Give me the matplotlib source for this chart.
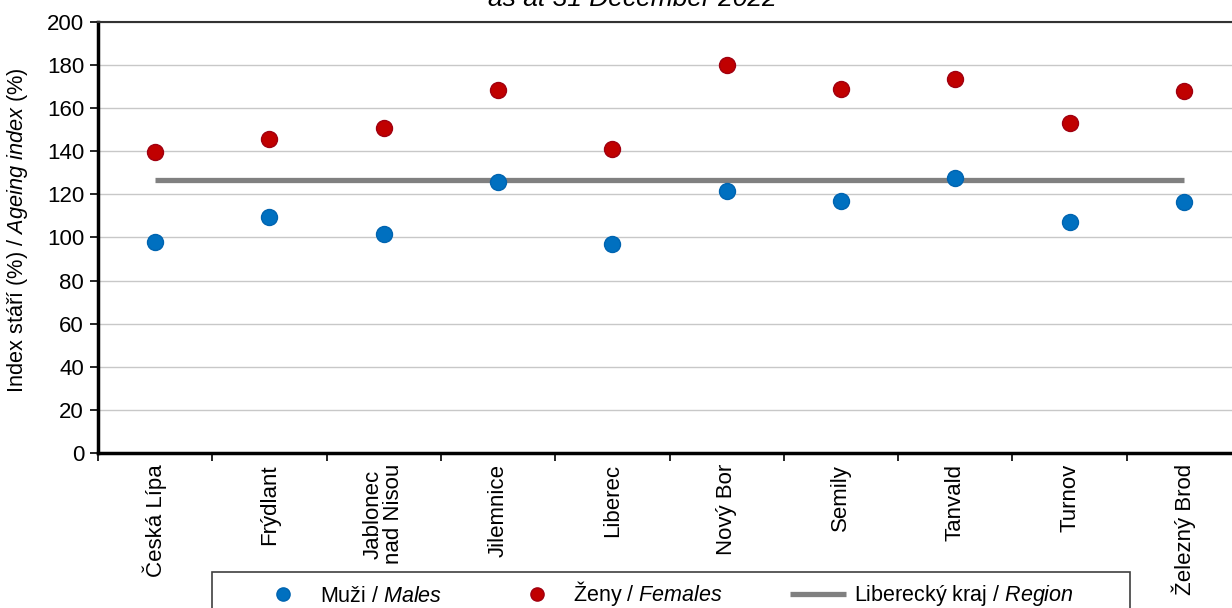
import matplotlib.pyplot as plt
import matplotlib.patches as mpatches
import numpy as np

plt.rcParams['font.family'] = ['Liberation Sans', 'DejaVu Sans']
plt.rcParams['mathtext.fontset'] = 'custom'
plt.rcParams['mathtext.rm'] = 'Liberation Sans'
plt.rcParams['mathtext.it'] = 'Liberation Sans:italic'

towns = ['Česká Lípa', 'Frýdlant', 'Jablonec\nnad Nisou', 'Jilemnice', 'Liberec',
         'Nový Bor', 'Semily', 'Tanvald', 'Turnov', 'Železný Brod']
males = [97.9, 109.5, 101.6, 125.8, 97.0, 121.6, 116.9, 127.6, 107.2, 116.5]
females = [139.7, 145.7, 150.8, 168.4, 141.0, 180.0, 168.9, 173.5, 153.1, 168.0]
region = [126.9] * len(towns)

fs = 16

fig = plt.figure(figsize=(12.32, 6.08), dpi=100)
ax = fig.add_axes([98 / 1232, 1 - 453 / 608, 1143 / 1232, 431 / 608])

x = np.arange(len(towns))
lreg, = ax.plot(x, region, color='#808080', linewidth=3.8, solid_capstyle='butt',
                label='Liberecký kraj / $\\it{Region}$', zorder=2)
lm, = ax.plot(x, males, 'o', color='#0070C0', markersize=11.5, markeredgecolor='#0064B0',
              markeredgewidth=1, linestyle='none', label='Muži / $\\it{Males}$', zorder=3)
lf, = ax.plot(x, females, 'o', color='#C00000', markersize=11.5, markeredgecolor='#A00010',
              markeredgewidth=1, linestyle='none', label='Ženy / $\\it{Females}$', zorder=3)

ax.set_xlim(-0.5, len(towns) - 0.5)
ax.set_ylim(0, 200)
ax.set_yticks(np.arange(0, 201, 20))
ax.yaxis.grid(True, color='#C8C8C8', linewidth=1)
ax.set_axisbelow(True)

ax.set_xticks(x)
ax.set_xticklabels(towns, rotation=90, fontsize=fs, linespacing=0.95,
                   ha='center', multialignment='center')
ax.set_xticks(np.arange(-0.5, len(towns), 1), minor=True)
ax.tick_params(axis='x', which='major', length=0, pad=8)
ax.tick_params(axis='x', which='minor', length=6, width=1.2, direction='out')
ax.tick_params(axis='y', labelsize=fs, length=6, width=1.2, direction='out', pad=4)

for s in ['left', 'bottom']:
    ax.spines[s].set_linewidth(2.5)
    ax.spines[s].set_color('black')
ax.spines['top'].set_linewidth(1.5)
ax.spines['top'].set_color('#333333')
ax.spines['right'].set_visible(False)

ax.set_ylabel('Index stáří (%) / $\\it{Ageing\\ index\\ (\\%)}$', fontsize=15.7)
ax.yaxis.set_label_coords((30 - 98) / 1143, 0.517)

fig.text(632 / 1232, 1 - 6 / 608, 'as at 31 December 2022', fontsize=19, style='italic',
         ha='center', va='baseline')

# legend frame drawn separately, it runs off the bottom of the figure
fig.patches.append(mpatches.Rectangle((212 / 1232, -0.05), 918 / 1232, 0.05 + 36 / 608,
                                      transform=fig.transFigure, fill=False,
                                      edgecolor='#404040', linewidth=1.2))
leg = fig.legend(handles=[lm, lf, lreg], loc='center left', ncol=3,
                 bbox_to_anchor=(255 / 1232, 1 - 594 / 608),
                 fontsize=15.5, frameon=False, borderpad=0, borderaxespad=0,
                 handlelength=2.6, handletextpad=0.4, columnspacing=3.1)
for h in leg.legend_handles[:2]:
    h.set_markersize(9.5)

fig.savefig('out.png', dpi=100)
